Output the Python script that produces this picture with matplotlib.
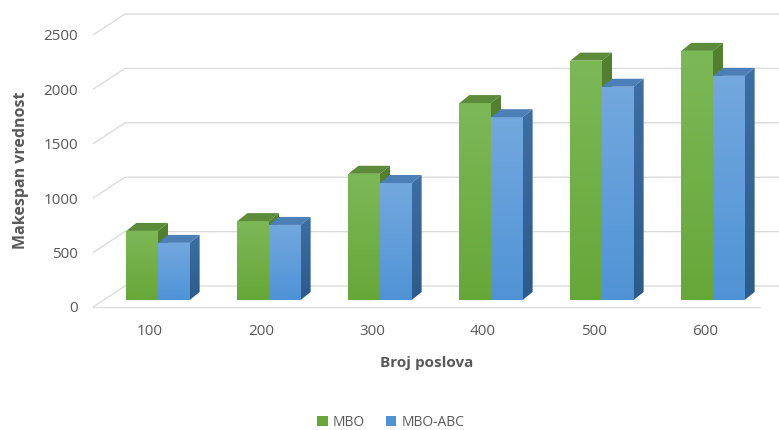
import numpy as np
import matplotlib
matplotlib.use("Agg")
import matplotlib.pyplot as plt
from matplotlib.patches import Polygon, Patch
from matplotlib.transforms import ScaledTranslation
from matplotlib.colors import LinearSegmentedColormap

# ---- data -------------------------------------------------------------
categories = ["100", "200", "300", "400", "500", "600"]
mbo = [635, 725, 1160, 1810, 2200, 2290]
mbo_abc = [525, 690, 1075, 1680, 1960, 2060]
y_ticks = [0, 500, 1000, 1500, 2000, 2500]
series_names = ["MBO", "MBO-ABC"]

# ---- styling ----------------------------------------------------------
plt.rcParams["font.family"] = ["Open Sans", "DejaVu Sans"]
TEXT = "#595959"
GRID = "#dcdcdc"
# (front top, front bottom, top face, side top, side bottom)
GREEN = ("#7db857", "#67a739", "#5c8c39", "#53822f", "#44722a")
BLUE = ("#74a8de", "#4f93d6", "#4c7fb6", "#3c6fa6", "#2c5a8a")

W, H, DPI = 779, 430, 100
fig = plt.figure(figsize=(W / DPI, H / DPI), dpi=DPI)

# axes = plane of the bar front faces (pixel box of the plot area)
L, R, B, T = 104, 779, 300, 0
ax = fig.add_axes([L / W, 1 - B / H, (R - L) / W, (B - T) / H])
PX_PER_CAT = 111.0
PX_PER_UNIT = 0.1088
x0 = (L - 158) / PX_PER_CAT
ax.set_xlim(x0, x0 + (R - L) / PX_PER_CAT)
ax.set_ylim(0, (B - T) / PX_PER_UNIT)
ux = 1 / PX_PER_CAT      # data units per pixel, x
uy = 1 / PX_PER_UNIT     # data units per pixel, y
for s in ax.spines.values():
    s.set_visible(False)

# depth of the chart walls relative to the bar front plane (pixels)
front_dy = -7
back_dy = 14
wall_left = (93 - 158) / PX_PER_CAT
floor_right = (760 - 158) / PX_PER_CAT
x_edge = ax.get_xlim()[1] + 1

# gridlines: diagonal on the side wall, then along the back wall
for v in y_ticks:
    xf, yf = wall_left, v + front_dy * uy
    xb, yb = wall_left + 32 * ux, v + back_dy * uy
    ax.plot([xf, xb, x_edge], [yf, yb, yb], color=GRID, lw=1.0,
            clip_on=False, zorder=1, solid_capstyle="butt")
# front edge of the floor
ax.plot([wall_left, floor_right], [front_dy * uy, front_dy * uy],
        color=GRID, lw=1.0, clip_on=False, zorder=1)

# ---- 3D-looking bars --------------------------------------------------
bar_w = 0.285
depth_x, depth_y = 10 * ux, 8 * uy


def gradient_poly(verts, c_top, c_bottom, z):
    poly = Polygon(verts, closed=True, facecolor="none", edgecolor="none",
                   zorder=z)
    ax.add_patch(poly)
    xs = [p[0] for p in verts]
    ys = [p[1] for p in verts]
    cmap = LinearSegmentedColormap.from_list("g", [c_bottom, c_top])
    img = ax.imshow(np.linspace(0, 1, 256).reshape(-1, 1),
                    extent=(min(xs), max(xs), min(ys), max(ys)),
                    origin="lower", cmap=cmap, aspect="auto",
                    interpolation="bilinear", zorder=z)
    img.set_clip_path(poly)


def draw_bar(xc, h, colors, z):
    xl, xr = xc - bar_w / 2, xc + bar_w / 2
    # front face (the bar itself)
    bars = ax.bar([xc], [h], width=bar_w, color="none", zorder=z)
    rect = bars.patches[0]
    cmap = LinearSegmentedColormap.from_list("f", [colors[1], colors[0]])
    img = ax.imshow(np.linspace(0, 1, 256).reshape(-1, 1),
                    extent=(xl, xr, 0, h), origin="lower", cmap=cmap,
                    aspect="auto", interpolation="bilinear", zorder=z)
    img.set_clip_path(rect)
    # top face
    ax.add_patch(Polygon([(xl, h), (xr, h), (xr + depth_x, h + depth_y),
                          (xl + depth_x, h + depth_y)], closed=True,
                         facecolor=colors[2], edgecolor="none", zorder=z))
    # right side face
    gradient_poly([(xr, 0), (xr + depth_x, depth_y),
                   (xr + depth_x, h + depth_y), (xr, h)],
                  colors[3], colors[4], z)


for i in range(len(categories)):
    draw_bar(i - bar_w / 2, mbo[i], GREEN, 3 + 2 * i)
    draw_bar(i + bar_w / 2, mbo_abc[i], BLUE, 4 + 2 * i)

ax.set_xlim(x0, x0 + (R - L) / PX_PER_CAT)
ax.set_ylim(0, (B - T) / PX_PER_UNIT)

# ---- ticks ------------------------------------------------------------
ax.set_yticks(y_ticks)
ax.set_yticklabels([str(v) for v in y_ticks])
ax.set_xticks(range(len(categories)))
ax.set_xticklabels(categories)
ax.tick_params(axis="y", length=0, pad=18.5, labelsize=11, labelcolor=TEXT)
ax.tick_params(axis="x", length=0, pad=17, labelsize=11, labelcolor=TEXT)
for lab in ax.get_yticklabels():
    lab.set_transform(lab.get_transform() +
                      ScaledTranslation(0, -7 / DPI, fig.dpi_scale_trans))
for lab in ax.get_xticklabels():
    lab.set_transform(lab.get_transform() +
                      ScaledTranslation(-8 / DPI, 0, fig.dpi_scale_trans))

# ---- axis titles ------------------------------------------------------
fig.text(21 / W, 1 - 170 / H, "Makespan vrednost", rotation=90,
         ha="center", va="center", fontsize=11.5, fontweight="bold",
         color=TEXT)
fig.text(427 / W, 1 - 363 / H, "Broj poslova", ha="center", va="center",
         fontsize=11, fontweight="bold", color=TEXT)

# ---- legend -----------------------------------------------------------
handles = [Patch(facecolor=GREEN[1], edgecolor="none"),
           Patch(facecolor=BLUE[1], edgecolor="none")]
fig.legend(handles, series_names, loc="center", ncol=2, frameon=False,
           bbox_to_anchor=(391 / W, 1 - 422 / H), fontsize=10,
           labelcolor=TEXT, handlelength=0.75, handleheight=0.75,
           handletextpad=0.4, columnspacing=1.5)

fig.savefig("out.png", dpi=DPI)
